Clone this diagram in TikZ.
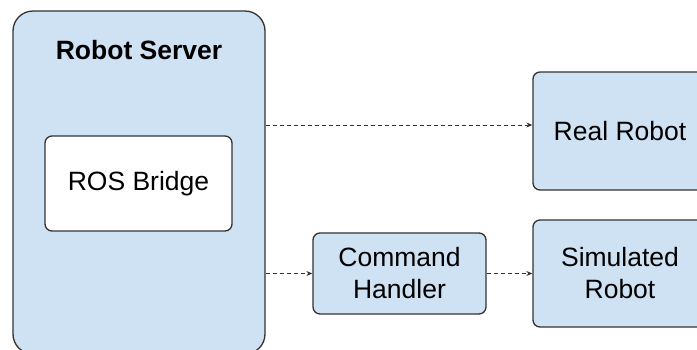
\documentclass[tikz,border=0pt]{standalone}
\usepackage{fontspec}
\setmainfont{Liberation Sans}
\usepackage{tikz}
\usetikzlibrary{arrows.meta,positioning}
\definecolor{boxblue}{HTML}{CFE2F3}
\definecolor{edgegray}{HTML}{333333}

\tikzset{
  block/.style={draw=edgegray, line width=1.3pt, fill=boxblue, rounded corners=7pt,
    align=center, inner sep=0pt, font=\fontsize{26.5}{32}\selectfont},
  bigblock/.style={block, rounded corners=20pt},
  inner/.style={block, fill=white},
  link/.style={draw=edgegray, line width=0.9pt, dash pattern=on 4pt off 3pt,
    -{Stealth[length=6pt,width=5pt]}}
}

\begin{document}
\begin{tikzpicture}[x=1pt,y=-1pt]
\useasboundingbox (0,0) rectangle (697,349);
\clip (0,0) rectangle (697,349);
% server side
\node[bigblock, minimum width=252pt, minimum height=343pt] (server) at (139,182.5) {};
\node[font=\fontsize{26.5}{32}\selectfont\bfseries] (title) at (139,50) {Robot Server};
\node[inner, minimum width=187pt, minimum height=95pt] (bridge) at (138.5,183.5) {ROS Bridge};
% robots
\node[block, minimum width=174pt, minimum height=118pt] (real) at (620,131) {Real Robot};
\node[block, minimum width=173pt, minimum height=81pt] (cmd) at (399.5,273.5) {Command\\Handler};
\node[block, minimum width=174pt, minimum height=107pt] (sim) at (620,273.5) {Simulated\\Robot};
% connections
\draw[link] ([yshift=6pt]server.east |- real.west) -- ([yshift=6pt]real.west);
\draw[link] (server.east |- cmd.west) -- (cmd.west);
\draw[link] (cmd.east) -- (sim.west);
\end{tikzpicture}
\end{document}
